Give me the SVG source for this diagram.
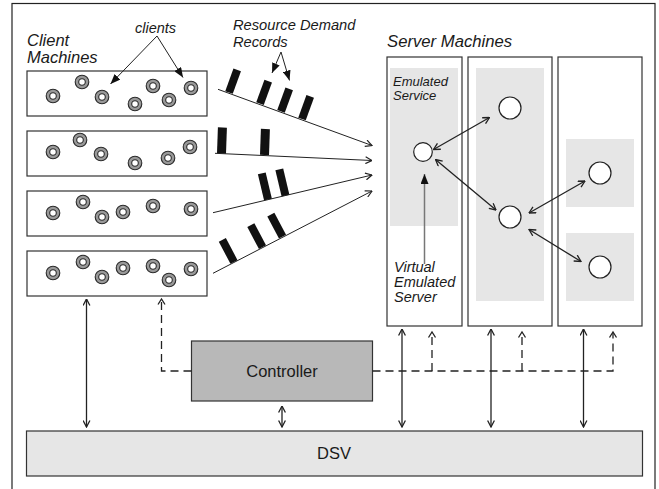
<svg xmlns="http://www.w3.org/2000/svg" width="659" height="489" viewBox="0 0 659 489">
  <style>
    .frame { fill: #fff; stroke: #222; stroke-width: 1.2; }
    .box { fill: #fff; stroke: #333; stroke-width: 1.2; }
    .shade { fill: #e6e6e6; stroke: none; }
    .ctrl { fill: #b8b8b8; stroke: #333; stroke-width: 1.2; }
    .dsv { fill: #e6e6e6; stroke: #333; stroke-width: 1.2; }
    .ring { fill: #999; stroke: #2a2a2a; stroke-width: 1.1; }
    .hole { fill: #fff; stroke: #2a2a2a; stroke-width: 1.1; }
    .node { fill: #fff; stroke: #222; stroke-width: 1.2; }
    .bar { fill: #111; }
    .flow { fill: none; stroke: #222; stroke-width: 1; }
    .link { fill: none; stroke: #222; stroke-width: 1.3; marker-start: url(#open); marker-end: url(#open); }
    .ptr { fill: none; stroke: #222; stroke-width: 1; marker-end: url(#solid); }
    .dash { fill: none; stroke: #222; stroke-width: 1.3; stroke-dasharray: 8 5; }
    .lbl { font-family: "Liberation Sans", Arial, sans-serif; font-style: italic; fill: #1a1a1a; }
    .name { font-family: "Liberation Sans", Arial, sans-serif; fill: #1a1a1a; }
  </style>
  <defs>
    <marker id="open" viewBox="0 0 8 8" refX="7.5" refY="4" markerWidth="8" markerHeight="8" markerUnits="userSpaceOnUse" orient="auto-start-reverse">
      <path d="M1,0.6 L7.5,4 L1,7.4" fill="none" stroke="#222" stroke-width="1.3"/>
    </marker>
    <marker id="flowhead" viewBox="0 0 8 8" refX="7.5" refY="4" markerWidth="8" markerHeight="8" markerUnits="userSpaceOnUse" orient="auto">
      <path d="M1,0.6 L7.5,4 L1,7.4" fill="none" stroke="#222" stroke-width="1.2"/>
    </marker>
    <marker id="solid" viewBox="0 0 10 8" refX="10" refY="4" markerWidth="10" markerHeight="8" markerUnits="userSpaceOnUse" orient="auto">
      <path d="M0,0 L10,4 L0,8 Z" fill="#111"/>
    </marker>
    <g id="client">
      <circle class="ring" r="6.8"/>
      <circle class="hole" r="3.3"/>
    </g>
  </defs>

  <!-- outer frame -->
  <rect class="frame" x="12" y="3.5" width="643" height="500"/>

  <!-- labels -->
  <text class="lbl" x="27" y="46" font-size="16.5">Client</text>
  <text class="lbl" x="27" y="63" font-size="16.5">Machines</text>
  <text class="lbl" x="135" y="33" font-size="14.5">clients</text>
  <text class="lbl" x="233" y="30" font-size="14.7">Resource Demand</text>
  <text class="lbl" x="233" y="47" font-size="14.7">Records</text>
  <text class="lbl" x="387" y="47" font-size="16.7">Server Machines</text>

  <!-- client machines -->
  <g id="client-1">
    <rect class="box" x="27" y="71" width="180" height="45"/>
    <use href="#client" x="53" y="96"/><use href="#client" x="82" y="82"/><use href="#client" x="102" y="97"/>
    <use href="#client" x="135" y="104"/><use href="#client" x="153" y="86"/><use href="#client" x="169" y="100"/>
    <use href="#client" x="191" y="88"/>
  </g>
  <g id="client-2">
    <rect class="box" x="27" y="131" width="180" height="45"/>
    <use href="#client" x="53" y="152"/><use href="#client" x="80" y="140"/><use href="#client" x="101" y="154"/>
    <use href="#client" x="135" y="163"/><use href="#client" x="168" y="158"/><use href="#client" x="190" y="147"/>
  </g>
  <g id="client-3">
    <rect class="box" x="27" y="191" width="180" height="45"/>
    <use href="#client" x="53" y="213"/><use href="#client" x="83" y="202"/><use href="#client" x="102" y="217"/>
    <use href="#client" x="123" y="212"/><use href="#client" x="153" y="206"/><use href="#client" x="191" y="209"/>
  </g>
  <g id="client-4">
    <rect class="box" x="27" y="251" width="180" height="45"/>
    <use href="#client" x="53" y="273"/><use href="#client" x="83" y="262"/><use href="#client" x="102" y="277"/>
    <use href="#client" x="123" y="268"/><use href="#client" x="153" y="266"/><use href="#client" x="169" y="280"/>
    <use href="#client" x="191" y="269"/>
  </g>

  <!-- server machines -->
  <g id="server-1">
    <rect class="box" x="387" y="57" width="75" height="269"/>
    <rect class="shade" x="390" y="68" width="68" height="158"/>
    <text class="lbl" x="393" y="86" font-size="13">Emulated</text>
    <text class="lbl" x="393" y="100" font-size="13">Service</text>
    <text class="lbl" x="394" y="272" font-size="14.5">Virtual</text>
    <text class="lbl" x="394" y="287" font-size="14.5">Emulated</text>
    <text class="lbl" x="394" y="302" font-size="14.5">Server</text>
  </g>
  <g id="server-2">
    <rect class="box" x="468" y="57" width="84" height="269"/>
    <rect class="shade" x="476" y="68" width="68" height="233"/>
  </g>
  <g id="server-3">
    <rect class="box" x="558" y="57" width="84" height="269"/>
    <rect class="shade" x="566" y="139" width="68" height="68"/>
    <rect class="shade" x="566" y="233" width="68" height="68"/>
  </g>

  <!-- emulated servers -->
  <g id="ves-a"><circle class="node" cx="423" cy="152" r="9.3"/></g>
  <g id="ves-b"><circle class="node" cx="510" cy="108" r="11"/></g>
  <g id="ves-c"><circle class="node" cx="510" cy="217" r="11"/></g>
  <g id="ves-d"><circle class="node" cx="600" cy="173" r="11"/></g>
  <g id="ves-e"><circle class="node" cx="600" cy="267" r="11"/></g>

  <!-- controller and DSV -->
  <g id="controller">
    <rect class="ctrl" x="191.5" y="341" width="181" height="60"/>
    <text class="name" x="282" y="377" font-size="16.5" text-anchor="middle">Controller</text>
  </g>
  <g id="dsv">
    <rect class="dsv" x="26.5" y="431" width="616" height="45"/>
    <text class="name" x="334" y="459" font-size="16.5" text-anchor="middle">DSV</text>
  </g>

  <!-- resource demand records -->
  <g id="records">
    <rect class="bar" x="-4" y="-24" width="8" height="24" transform="translate(229,92.5) rotate(20)"/>
    <rect class="bar" x="-4" y="-24" width="8" height="24" transform="translate(260,103.7) rotate(20)"/>
    <rect class="bar" x="-4" y="-24" width="8" height="24" transform="translate(281,111.4) rotate(20)"/>
    <rect class="bar" x="-4" y="-24" width="8" height="24" transform="translate(302,119) rotate(20)"/>

    <rect class="bar" x="-4.5" y="-26" width="9" height="26" transform="translate(221.5,153.5) rotate(2)"/>
    <rect class="bar" x="-4.5" y="-26" width="9" height="26" transform="translate(264.5,155) rotate(2)"/>

    <rect class="bar" x="-4" y="-27" width="8" height="27" transform="translate(268,199.7) rotate(-13.3)"/>
    <rect class="bar" x="-4" y="-27" width="8" height="27" transform="translate(285.5,195.6) rotate(-13.3)"/>

    <rect class="bar" x="-4" y="-25" width="8" height="25" transform="translate(234,262) rotate(-27.8)"/>
    <rect class="bar" x="-4" y="-25" width="8" height="25" transform="translate(262.5,247.2) rotate(-27.8)"/>
    <rect class="bar" x="-4" y="-25" width="8" height="25" transform="translate(282.5,236.7) rotate(-27.8)"/>
  </g>

  <!-- connectors -->
  <g id="connectors">
    <!-- label pointers -->
    <path class="ptr" d="M157,36 L110.5,84"/>
    <path class="ptr" d="M157,36 L183,77.5"/>
    <path class="ptr" d="M281,52 L272,73"/>
    <path class="ptr" d="M281,52 L289.5,80.5"/>

    <!-- demand flows toward server machines -->
    <path class="flow" d="M218,89.3 L372,145.5" marker-end="url(#flowhead)"/>
    <path class="flow" d="M215,153.3 L372,160.5" marker-end="url(#flowhead)"/>
    <path class="flow" d="M213,212.7 L372,175" marker-end="url(#flowhead)"/>
    <path class="flow" d="M213,273.3 L372,191" marker-end="url(#flowhead)"/>

    <!-- emulated server interactions -->
    <path class="link" d="M433.5,149.5 L489.5,117.5"/>
    <path class="link" d="M435.5,159.5 L496,210"/>
    <path class="link" d="M529,213 L585,181"/>
    <path class="link" d="M529,229.5 L581,261.5"/>

    <!-- virtual emulated server pointer -->
    <path d="M424.5,264 L424.5,174" fill="none" stroke="#777" stroke-width="1.5" marker-end="url(#solid)"/>

    <!-- data links to DSV -->
    <path class="link" d="M86.5,299 L86.5,427"/>
    <path class="link" d="M282,406 L282,427"/>
    <path class="link" d="M402,329 L402,427"/>
    <path class="link" d="M491,329 L491,427"/>
    <path class="link" d="M583.5,329 L583.5,427"/>

    <!-- control links -->
    <path class="dash" d="M191.5,371 H161.5 V301"/>
    <path class="dash" d="M372.5,371 H613 V333"/>
    <path class="dash" d="M432,371 V333"/>
    <path class="dash" d="M522,371 V333"/>
    <path d="M158,304.5 L161.5,299 L165,304.5" fill="none" stroke="#222" stroke-width="1.3"/>
    <path d="M428.5,337.5 L432,332 L435.5,337.5" fill="none" stroke="#222" stroke-width="1.3"/>
    <path d="M518.5,337.5 L522,332 L525.5,337.5" fill="none" stroke="#222" stroke-width="1.3"/>
    <path d="M609.5,337.5 L613,332 L616.5,337.5" fill="none" stroke="#222" stroke-width="1.3"/>
  </g>
</svg>
